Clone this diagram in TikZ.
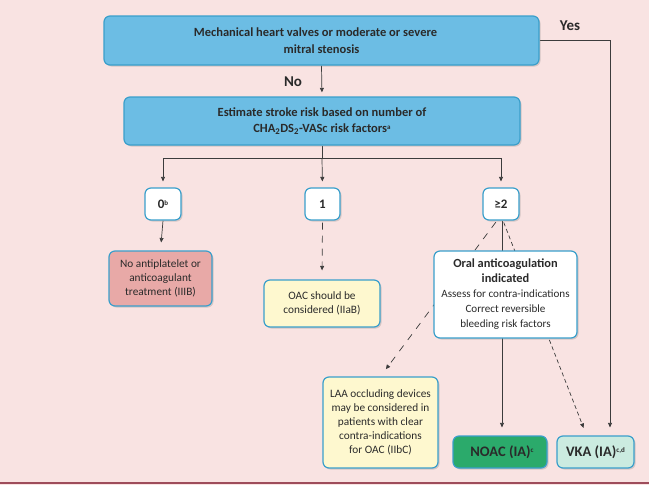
\documentclass[tikz,border=0pt]{standalone}
\usepackage{fontspec}
\setmainfont{Carlito}
\usetikzlibrary{shadows,arrows.meta,calc}
\definecolor{bgpink}{HTML}{F9E3E2}
\definecolor{botline}{HTML}{9E4C5B}
\definecolor{boxblue}{HTML}{3A9FCB}
\definecolor{fillblue}{HTML}{6CBDE4}
\definecolor{fillpink}{HTML}{E8A9A7}
\definecolor{fillyellow}{HTML}{FEF8CF}
\definecolor{fillgreen}{HTML}{2BAA6B}
\definecolor{fillmint}{HTML}{CBEBE0}
\definecolor{linegray}{HTML}{3C3C3C}
\definecolor{txt}{HTML}{2A2A2A}
\pgfdeclarelayer{bgl}\pgfdeclarelayer{lines}\pgfsetlayers{bgl,lines,main}
\newcommand{\smsup}[1]{\raisebox{0.5ex}{\fontsize{7}{8}\selectfont #1}}
\begin{document}
\begin{tikzpicture}[x=1pt,y=-1pt,
  box/.style={draw=boxblue, line width=1.2pt, rounded corners=6pt, align=center,
    inner sep=1pt, text=txt,
    drop shadow={shadow xshift=1.5pt, shadow yshift=-1.5pt, opacity=0.3}},
  bigbox/.style={box, fill=fillblue, font=\fontsize{12.5}{16.5}\selectfont\bfseries},
  numbox/.style={box, fill=white, minimum width=36pt, minimum height=32pt, font=\fontsize{13}{15}\selectfont\bfseries},
  smallbox/.style={box, font=\fontsize{11.3}{14}\selectfont},
  resbox/.style={box, minimum height=32pt, font=\fontsize{14.5}{16}\selectfont\bfseries},
  arr/.style={-{Triangle[length=4.5pt,width=4pt]}, line width=0.7pt, draw=linegray},
  plain/.style={line width=0.7pt, draw=linegray},
  lbl/.style={font=\fontsize{15}{17}\selectfont\bfseries, text=txt}
]
\begin{pgfonlayer}{bgl}
\fill[bgpink] (0,0) rectangle (649,485);
\fill[botline] (0,482) rectangle (649,484);
\end{pgfonlayer}
\useasboundingbox (0,0) rectangle (649,485);

\node[bigbox, minimum width=435pt, minimum height=49pt] (mech) at (321.5,40.5)
  {Mechanical heart valves or moderate or severe\hspace*{12pt}\\mitral stenosis};
\node[bigbox, minimum width=396pt, minimum height=48pt] (est) at (322,121)
  {Estimate stroke risk based on number of\\CHA\textsubscript{2}DS\textsubscript{2}-VASc risk factors\smsup{a}};
\node[numbox] (b0) at (163,204) {0\smsup{b}};
\node[numbox, minimum width=35pt] (b1) at (322.5,204) {1};
\node[numbox] (b2) at (501,204) {≥2};
\node[smallbox, fill=fillpink, minimum width=103pt, minimum height=55pt] (none) at (160.5,278.5)
  {No antiplatelet or\\anticoagulant\\treatment (IIIB)};
\node[smallbox, fill=fillyellow, minimum width=116pt, minimum height=47pt] (oacc) at (322,303.5)
  {OAC should be\\considered (IIaB)};
\node[smallbox, fill=white, minimum width=143pt, minimum height=87pt, font=\fontsize{11.1}{15}\selectfont] (oral) at (505.5,294.5)
  {{\fontsize{12.4}{15}\selectfont\bfseries Oral anticoagulation}\\{\fontsize{12.4}{15}\selectfont\bfseries indicated}\\Assess for contra-indications\\Correct reversible\\bleeding risk factors};
\node[smallbox, fill=fillyellow, minimum width=115pt, minimum height=91pt] (laa) at (380.5,422.5)
  {LAA occluding devices\\may be considered in\\patients with clear\\contra-indications\\for OAC (IIbC)};
\node[resbox, fill=fillgreen, minimum width=94pt] (noac) at (500,452)
  {\hspace*{4pt}NOAC (IA)\smsup{c}};
\node[resbox, fill=fillmint, minimum width=77pt] (vka) at (595.5,452)
  {VKA (IA)\smsup{c,d}};

\node[lbl] (yes) at (570,26) {Yes};
\node[lbl] (no) at (293,82) {No};

\coordinate (yc) at (610,40.5);
\begin{pgfonlayer}{lines}
\draw[arr, shorten >=8pt] (mech.east) -- (yc) -- (yc |- vka.north);
\draw[arr, shorten >=4pt] (mech.south) -- (est.north);
\draw[plain] (est.south) -- ++(0,13) coordinate (split);
\draw[arr, shorten >=6pt] (split) -| (b0.north);
\draw[arr, shorten >=6pt] (split) -| (b2.north);
\draw[arr, shorten >=6pt] (split) -- (b1.north);
\draw[arr, shorten >=8pt] (b0.south) -- (none.north);
\draw[arr, dash pattern=on 7pt off 6pt, shorten <=2pt, shorten >=9pt] (b1.south) -- (oacc.north);
\draw[arr, shorten >=8pt] ([xshift=1pt]b2.south) -- ([xshift=2pt]noac.north);
\draw[arr, dash pattern=on 7pt off 7pt, shorten <=2pt, shorten >=9pt] ([xshift=-4pt]b2.south) -- (laa.north);
\draw[arr, dash pattern=on 4pt off 3pt, shorten <=2pt, shorten >=8pt] ([xshift=2pt]b2.south) -- ([xshift=-9pt]vka.north);
\end{pgfonlayer}
\end{tikzpicture}
\end{document}
